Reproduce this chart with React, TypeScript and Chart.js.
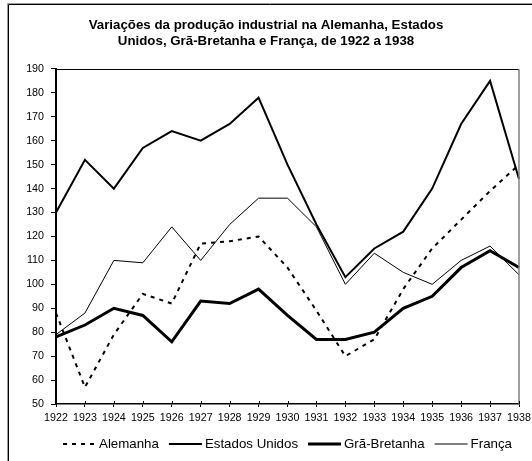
import React, { useEffect, useRef } from 'react';
import { Chart, registerables } from 'chart.js';

Chart.register(...registerables);

const FONT = "Arial, 'Liberation Sans', Helvetica, sans-serif";

const titleLines = [
  'Variações da produção industrial na Alemanha, Estados',
  'Unidos, Grã-Bretanha e França, de 1922 a 1938',
];

const years = [
  '1922', '1923', '1924', '1925', '1926', '1927', '1928', '1929', '1930',
  '1931', '1932', '1933', '1934', '1935', '1936', '1937', '1938',
];

const seriesNames = ['Alemanha', 'Estados Unidos', 'Grã-Bretanha', 'França'];

const alemanha = [88, 57, 79, 96, 92, 117, 118, 120, 107, 89, 70, 77, 98, 115, 127, 139, 150];
const estadosUnidos = [130, 152, 140, 157, 164, 160, 167, 178, 150, 125, 103, 115, 122, 140, 167, 185, 144];
const granBretanha = [78, 83, 90, 87, 76, 93, 92, 98, 87, 77, 77, 80, 90, 95, 107, 114, 107];
const franca = [79, 88, 110, 109, 124, 110, 125, 136, 136, 124, 100, 113, 105, 100, 110, 116, 104];

const yMin = 50;
const yMax = 190;
const yStep = 10;

const framePlugin = {
  id: 'frame',
  beforeDraw(chart: any) {
    const { ctx, width, height } = chart;
    ctx.save();
    ctx.fillStyle = '#fff';
    ctx.fillRect(0, 0, width, height);
    // outer chart border (continues beyond the picture on the right/bottom)
    ctx.lineWidth = 1;
    ctx.strokeStyle = '#9a9a9a';
    ctx.beginPath();
    ctx.moveTo(7.5, height);
    ctx.lineTo(7.5, 3.5);
    ctx.lineTo(width, 3.5);
    ctx.stroke();
    ctx.strokeStyle = '#000';
    ctx.beginPath();
    ctx.moveTo(8.5, height);
    ctx.lineTo(8.5, 4.5);
    ctx.lineTo(width, 4.5);
    ctx.stroke();
    ctx.restore();
  },
  afterDraw(chart: any) {
    const { ctx, chartArea } = chart;
    const { left, right, top, bottom } = chartArea;
    ctx.save();
    // plot area top and right border
    ctx.lineWidth = 1;
    ctx.strokeStyle = '#000';
    ctx.beginPath();
    ctx.moveTo(left, Math.round(top) + 0.5);
    ctx.lineTo(right, Math.round(top) + 0.5);
    ctx.stroke();
    ctx.strokeStyle = '#808080';
    ctx.lineWidth = 1.5;
    ctx.beginPath();
    ctx.moveTo(Math.round(right), top);
    ctx.lineTo(Math.round(right), bottom);
    ctx.stroke();
    // inner half of the crossing x ticks
    const xs = chart.scales.x;
    ctx.strokeStyle = '#000';
    ctx.lineWidth = 1;
    ctx.beginPath();
    for (let i = 0; i < xs.ticks.length; i++) {
      const px = Math.round(xs.getPixelForTick(i)) + 0.5;
      ctx.moveTo(px, bottom);
      ctx.lineTo(px, bottom - 3);
    }
    ctx.stroke();

    // legend
    const items = chart.data.datasets.map((ds: any) => ({
      label: ds.label,
      w: ds.borderWidth,
      dash: ds.borderDash || [],
      color: ds.borderColor,
    }));
    ctx.font = `13.3px ${FONT}`;
    const sample = 33;
    const gapT = 3;
    const gapI = 10;
    let total = 0;
    items.forEach((it: any, i: number) => {
      it.tw = ctx.measureText(it.label).width;
      total += sample + gapT + it.tw + (i > 0 ? gapI : 0);
    });
    let x = (left + right) / 2 - total / 2;
    const y = 444;
    ctx.textBaseline = 'middle';
    ctx.textAlign = 'left';
    items.forEach((it: any) => {
      ctx.strokeStyle = it.color;
      ctx.lineWidth = it.w;
      ctx.setLineDash(it.dash);
      ctx.lineCap = 'butt';
      ctx.beginPath();
      ctx.moveTo(x, y);
      ctx.lineTo(x + sample, y);
      ctx.stroke();
      ctx.setLineDash([]);
      ctx.fillStyle = '#000';
      ctx.fillText(it.label, x + sample + gapT, y);
      x += sample + gapT + it.tw + gapI;
    });
    ctx.restore();
  },
};

export default function App() {
  const ref = useRef<HTMLCanvasElement | null>(null);

  useEffect(() => {
    if (!ref.current) return;
    const chart = new Chart(ref.current, {
      type: 'line',
      data: {
        labels: years,
        datasets: [
          {
            label: seriesNames[0],
            data: alemanha,
            borderColor: '#000',
            borderWidth: 2,
            borderDash: [4, 5],
            pointRadius: 0,
            tension: 0,
            fill: false,
          },
          {
            label: seriesNames[1],
            data: estadosUnidos,
            borderColor: '#000',
            borderWidth: 2,
            pointRadius: 0,
            tension: 0,
            fill: false,
          },
          {
            label: seriesNames[2],
            data: granBretanha,
            borderColor: '#000',
            borderWidth: 3,
            pointRadius: 0,
            tension: 0,
            fill: false,
          },
          {
            label: seriesNames[3],
            data: franca,
            borderColor: '#000',
            borderWidth: 1,
            pointRadius: 0,
            tension: 0,
            fill: false,
          },
        ],
      },
      options: {
        responsive: false,
        animation: false,
        devicePixelRatio: 1,
        layout: { padding: { top: 0, left: 0, right: 0, bottom: 27 } },
        plugins: {
          legend: { display: false },
          tooltip: { enabled: false },
          title: {
            display: true,
            text: titleLines,
            color: '#000',
            font: { family: FONT, size: 13.3, weight: 'bold', lineHeight: 1.2 },
            padding: { top: 17, bottom: 20 },
          },
        },
        scales: {
          x: {
            type: 'category',
            grid: {
              display: true,
              drawOnChartArea: false,
              drawTicks: true,
              tickLength: 3,
              color: '#000',
              lineWidth: 1,
            },
            border: { display: true, color: '#000', width: 1.5 },
            ticks: {
              color: '#000',
              font: { family: FONT, size: 10.7 },
              padding: 5,
              maxRotation: 0,
              autoSkip: false,
            },
            afterFit: (s: any) => {
              s.height = 30;
              s.paddingRight = 13;
            },
          },
          y: {
            min: yMin,
            max: yMax,
            grid: {
              display: true,
              drawOnChartArea: false,
              drawTicks: true,
              tickLength: 5,
              color: '#000',
              lineWidth: 1,
            },
            border: { display: true, color: '#000', width: 2 },
            ticks: {
              stepSize: yStep,
              color: '#000',
              font: { family: FONT, size: 10.7 },
              padding: 7,
            },
            afterFit: (s: any) => {
              s.width = 56;
            },
          },
        },
      },
      plugins: [framePlugin],
    });
    return () => chart.destroy();
  }, []);

  return (
    <div style={{ position: 'absolute', left: 0, top: 0, width: 532, height: 461 }}>
      <canvas ref={ref} width={532} height={461} style={{ display: 'block' }} />
    </div>
  );
}
